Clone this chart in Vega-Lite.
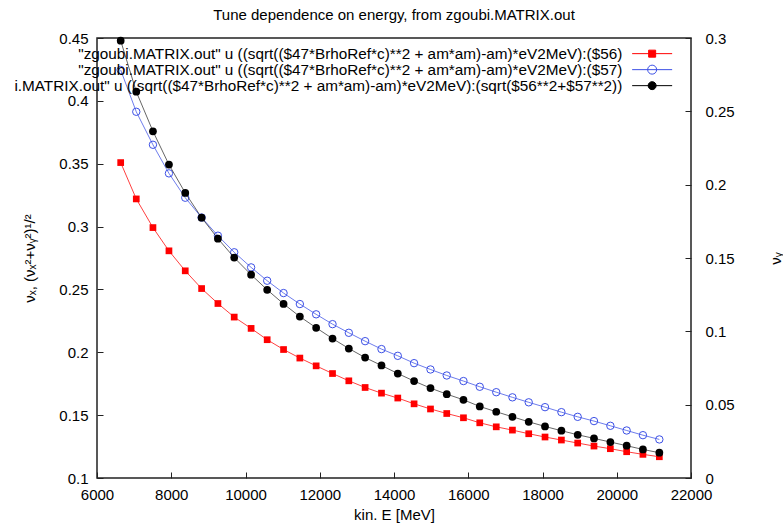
{
  "$schema": "https://vega.github.io/schema/vega-lite/v6.json",
  "width": 594,
  "height": 440,
  "autosize": {"type": "none"},
  "padding": {"left": 97, "top": 38, "right": 92, "bottom": 47},
  "background": "white",
  "config": {
    "font": "Liberation Sans",
    "view": {"stroke": "#222222", "strokeWidth": 1.5},
    "axis": {
      "labelFont": "Liberation Sans", "labelFontSize": 15, "labelColor": "#000000",
      "titleFont": "Liberation Sans", "titleFontSize": 15, "titleFontWeight": "normal", "titleColor": "#000000",
      "domain": false, "grid": false, "tickColor": "#222222", "tickSize": -6, "tickWidth": 1,
      "labelFlush": false, "labelOverlap": false, "labelBound": false
    },
    "legend": {
      "orient": "none", "legendX": 547.5, "legendY": 8, "title": null,
      "symbolSize": 64, "symbolStrokeWidth": 1, "rowPadding": -4,
      "labelFont": "Liberation Sans", "labelFontSize": 15.3, "labelColor": "#000000",
      "labelAlign": "right", "labelOffset": -37.5, "labelLimit": 1000
    }
  },
  "title": {"text": "Tune dependence on energy, from zgoubi.MATRIX.out", "font": "Liberation Sans", "fontSize": 15, "fontWeight": "normal", "color": "#000000", "anchor": "middle", "frame": "group", "baseline": "alphabetic", "offset": -4},
  "data": {"values": [
    {"E": 6638, "s": "x", "v": 0.3509}, {"E": 7058, "s": "x", "v": 0.3220}, {"E": 7507, "s": "x", "v": 0.2992}, {"E": 7938, "s": "x", "v": 0.2807},
    {"E": 8377, "s": "x", "v": 0.2648}, {"E": 8818, "s": "x", "v": 0.2507}, {"E": 9257, "s": "x", "v": 0.2388}, {"E": 9696, "s": "x", "v": 0.2280},
    {"E": 10151, "s": "x", "v": 0.2190}, {"E": 10584, "s": "x", "v": 0.2100}, {"E": 11025, "s": "x", "v": 0.2022}, {"E": 11464, "s": "x", "v": 0.1954},
    {"E": 11903, "s": "x", "v": 0.1892}, {"E": 12344, "s": "x", "v": 0.1831}, {"E": 12783, "s": "x", "v": 0.1773}, {"E": 13222, "s": "x", "v": 0.1720},
    {"E": 13663, "s": "x", "v": 0.1675}, {"E": 14102, "s": "x", "v": 0.1636}, {"E": 14541, "s": "x", "v": 0.1590}, {"E": 14983, "s": "x", "v": 0.1549},
    {"E": 15421, "s": "x", "v": 0.1513}, {"E": 15871, "s": "x", "v": 0.1479}, {"E": 16310, "s": "x", "v": 0.1439}, {"E": 16754, "s": "x", "v": 0.1407},
    {"E": 17190, "s": "x", "v": 0.1381}, {"E": 17629, "s": "x", "v": 0.1352}, {"E": 18068, "s": "x", "v": 0.1326}, {"E": 18509, "s": "x", "v": 0.1302},
    {"E": 18948, "s": "x", "v": 0.1278}, {"E": 19387, "s": "x", "v": 0.1254}, {"E": 19828, "s": "x", "v": 0.1233}, {"E": 20267, "s": "x", "v": 0.1209},
    {"E": 20705, "s": "x", "v": 0.1188}, {"E": 21147, "s": "x", "v": 0.1169},
    {"E": 6638, "s": "y", "v": 0.2782}, {"E": 7058, "s": "y", "v": 0.2497}, {"E": 7507, "s": "y", "v": 0.2272}, {"E": 7938, "s": "y", "v": 0.2077},
    {"E": 8377, "s": "y", "v": 0.1911}, {"E": 8818, "s": "y", "v": 0.1776}, {"E": 9257, "s": "y", "v": 0.1652}, {"E": 9696, "s": "y", "v": 0.1539},
    {"E": 10151, "s": "y", "v": 0.1436}, {"E": 10584, "s": "y", "v": 0.1345}, {"E": 11025, "s": "y", "v": 0.1261}, {"E": 11464, "s": "y", "v": 0.1186},
    {"E": 11903, "s": "y", "v": 0.1116}, {"E": 12344, "s": "y", "v": 0.1049}, {"E": 12783, "s": "y", "v": 0.0990}, {"E": 13222, "s": "y", "v": 0.0933},
    {"E": 13663, "s": "y", "v": 0.0879}, {"E": 14102, "s": "y", "v": 0.0833}, {"E": 14541, "s": "y", "v": 0.0783}, {"E": 14983, "s": "y", "v": 0.0740},
    {"E": 15421, "s": "y", "v": 0.0699}, {"E": 15871, "s": "y", "v": 0.0661}, {"E": 16310, "s": "y", "v": 0.0622}, {"E": 16754, "s": "y", "v": 0.0585},
    {"E": 17190, "s": "y", "v": 0.0550}, {"E": 17629, "s": "y", "v": 0.0516}, {"E": 18068, "s": "y", "v": 0.0483}, {"E": 18509, "s": "y", "v": 0.0449},
    {"E": 18948, "s": "y", "v": 0.0417}, {"E": 19387, "s": "y", "v": 0.0388}, {"E": 19828, "s": "y", "v": 0.0356}, {"E": 20267, "s": "y", "v": 0.0324},
    {"E": 20705, "s": "y", "v": 0.0292}, {"E": 21147, "s": "y", "v": 0.0263},
    {"E": 6638, "s": "r", "v": 0.4479}, {"E": 7058, "s": "r", "v": 0.4073}, {"E": 7507, "s": "r", "v": 0.3758}, {"E": 7938, "s": "r", "v": 0.3493},
    {"E": 8377, "s": "r", "v": 0.3268}, {"E": 8818, "s": "r", "v": 0.3071}, {"E": 9257, "s": "r", "v": 0.2904}, {"E": 9696, "s": "r", "v": 0.2753},
    {"E": 10151, "s": "r", "v": 0.2617}, {"E": 10584, "s": "r", "v": 0.2497}, {"E": 11025, "s": "r", "v": 0.2385}, {"E": 11464, "s": "r", "v": 0.2284},
    {"E": 11903, "s": "r", "v": 0.2195}, {"E": 12344, "s": "r", "v": 0.2109}, {"E": 12783, "s": "r", "v": 0.2030}, {"E": 13222, "s": "r", "v": 0.1958},
    {"E": 13663, "s": "r", "v": 0.1895}, {"E": 14102, "s": "r", "v": 0.1831}, {"E": 14541, "s": "r", "v": 0.1771}, {"E": 14983, "s": "r", "v": 0.1715},
    {"E": 15421, "s": "r", "v": 0.1667}, {"E": 15871, "s": "r", "v": 0.1622}, {"E": 16310, "s": "r", "v": 0.1569}, {"E": 16754, "s": "r", "v": 0.1527},
    {"E": 17190, "s": "r", "v": 0.1487}, {"E": 17629, "s": "r", "v": 0.1447}, {"E": 18068, "s": "r", "v": 0.1410}, {"E": 18509, "s": "r", "v": 0.1376},
    {"E": 18948, "s": "r", "v": 0.1344}, {"E": 19387, "s": "r", "v": 0.1315}, {"E": 19828, "s": "r", "v": 0.1286}, {"E": 20267, "s": "r", "v": 0.1257},
    {"E": 20705, "s": "r", "v": 0.1227}, {"E": 21147, "s": "r", "v": 0.1201}
  ]},
  "encoding": {
    "x": {"field": "E", "type": "quantitative", "scale": {"domain": [6000, 22000], "nice": false, "zero": false},
          "axis": {"values": [6000, 8000, 10000, 12000, 14000, 16000, 18000, 20000, 22000], "format": "d", "labelPadding": 15,
                   "title": "kin. E [MeV]", "titleX": 297, "titleY": 36, "titleBaseline": "middle", "titleAlign": "center"}}
  },
  "layer": [
    {
      "transform": [{"filter": "datum.s === 'x'"}],
      "encoding": {
        "y": {"field": "v", "type": "quantitative", "scale": {"domain": [0.1, 0.45], "nice": false, "zero": false},
              "axis": {"orient": "left", "values": [0.1, 0.15, 0.2, 0.25, 0.3, 0.35, 0.4, 0.45], "format": "~g", "labelPadding": 15,
                       "title": "νₓ, (νₓ²+νᵧ²)¹/²", "titleX": -68, "titleY": 220, "titleAngle": 270, "titleBaseline": "middle", "titleAlign": "center"}}
      },
      "layer": [
        {"mark": {"type": "line", "color": "#ff0000", "strokeWidth": 1, "opacity": 0.75}},
        {"mark": {"type": "point", "shape": "square", "filled": true, "color": "#ff0000", "size": 45, "opacity": 1}}
      ]
    },
    {
      "transform": [{"filter": "datum.s === 'y'"}],
      "encoding": {
        "y": {"field": "v", "type": "quantitative", "scale": {"domain": [0, 0.3], "nice": false, "zero": false},
              "axis": {"orient": "right", "values": [0, 0.05, 0.1, 0.15, 0.2, 0.25, 0.3], "format": "~g", "labelPadding": 20,
                       "title": "νᵧ", "titleX": 84, "titleY": 220, "titleAngle": 270, "titleBaseline": "middle", "titleAlign": "center"}}
      },
      "layer": [
        {"mark": {"type": "line", "color": "#3c50e6", "strokeWidth": 1, "opacity": 0.75}},
        {"mark": {"type": "point", "shape": "circle", "filled": false, "color": "#3c50e6", "size": 55, "strokeWidth": 1, "opacity": 1}}
      ]
    },
    {
      "transform": [{"filter": "datum.s === 'r'"}],
      "encoding": {
        "y": {"field": "v", "type": "quantitative", "scale": {"domain": [0.1, 0.45], "nice": false, "zero": false}, "axis": null}
      },
      "layer": [
        {"mark": {"type": "line", "color": "#000000", "strokeWidth": 1, "opacity": 0.6}},
        {"mark": {"type": "point", "shape": "circle", "filled": true, "color": "#000000", "size": 60, "opacity": 1}}
      ]
    },
    {
      "transform": [{"filter": "false"}],
      "mark": {"type": "point", "opacity": 1, "strokeWidth": 1},
      "encoding": {
        "fill": {"field": "s", "type": "nominal",
                 "scale": {"domain": ["x", "y", "r"], "range": ["#ff0000", "transparent", "#000000"]},
                 "legend": {"labelExpr": "datum.value === 'x' ? '\"zgoubi.MATRIX.out\" u ((sqrt(($47*BrhoRef*c)**2 + am*am)-am)*eV2MeV):($56)' : (datum.value === 'y' ? '\"zgoubi.MATRIX.out\" u ((sqrt(($47*BrhoRef*c)**2 + am*am)-am)*eV2MeV):($57)' : 'i.MATRIX.out\" u ((sqrt(($47*BrhoRef*c)**2 + am*am)-am)*eV2MeV):(sqrt($56**2+$57**2))')"}},
        "stroke": {"field": "s", "type": "nominal",
                   "scale": {"domain": ["x", "y", "r"], "range": ["#ff0000", "#3c50e6", "#000000"]},
                   "legend": {"labelExpr": "datum.value === 'x' ? '\"zgoubi.MATRIX.out\" u ((sqrt(($47*BrhoRef*c)**2 + am*am)-am)*eV2MeV):($56)' : (datum.value === 'y' ? '\"zgoubi.MATRIX.out\" u ((sqrt(($47*BrhoRef*c)**2 + am*am)-am)*eV2MeV):($57)' : 'i.MATRIX.out\" u ((sqrt(($47*BrhoRef*c)**2 + am*am)-am)*eV2MeV):(sqrt($56**2+$57**2))')"}},
        "shape": {"field": "s", "type": "nominal",
                  "scale": {"domain": ["x", "y", "r"], "range": ["M-5,0H5M-0.875,-0.875H0.875V0.875H-0.875Z", "M-5,0H5M1.125,0A1.125,1.125,0,1,1,-1.125,0A1.125,1.125,0,1,1,1.125,0Z", "M-5,0H5M1,0A1,1,0,1,1,-1,0A1,1,0,1,1,1,0Z"]},
                  "legend": {"labelExpr": "datum.value === 'x' ? '\"zgoubi.MATRIX.out\" u ((sqrt(($47*BrhoRef*c)**2 + am*am)-am)*eV2MeV):($56)' : (datum.value === 'y' ? '\"zgoubi.MATRIX.out\" u ((sqrt(($47*BrhoRef*c)**2 + am*am)-am)*eV2MeV):($57)' : 'i.MATRIX.out\" u ((sqrt(($47*BrhoRef*c)**2 + am*am)-am)*eV2MeV):(sqrt($56**2+$57**2))')"}}
      }
    }
  ],
  "resolve": {"scale": {"y": "independent"}, "axis": {"y": "independent"}}
}
